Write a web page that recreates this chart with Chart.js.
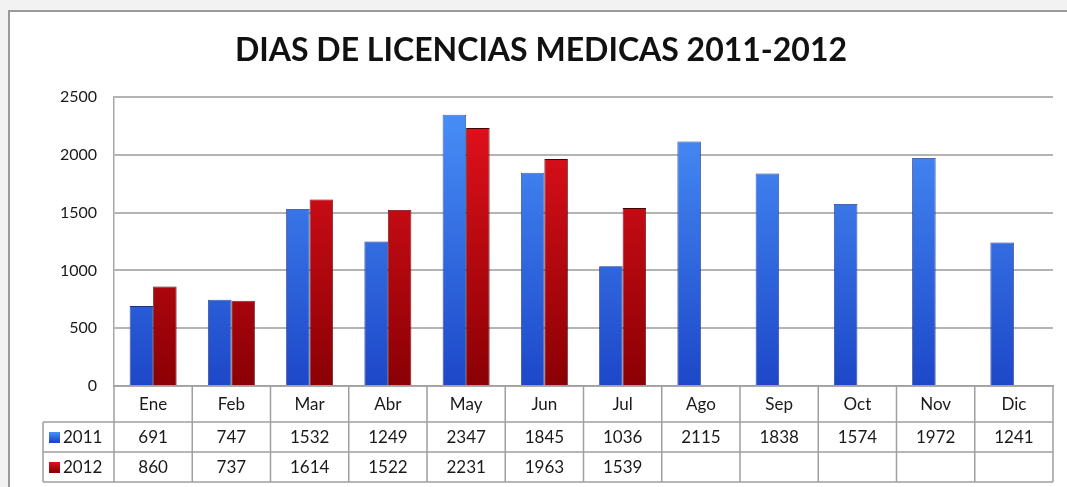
<!DOCTYPE html>
<html>
<head>
<meta charset="utf-8">
<script src="https://cdn.jsdelivr.net/npm/chart.js@4/dist/chart.umd.min.js"></script>
<style>
html,body{margin:0;padding:0;background:#fff;}
#wrap{position:relative;width:1067px;height:487px;}
</style>
</head>
<body>
<div id="wrap"><canvas id="c" width="1067" height="487"></canvas></div>
<script>
const titleText = 'DIAS DE LICENCIAS MEDICAS 2011-2012';
const months = ['Ene','Feb','Mar','Abr','May','Jun','Jul','Ago','Sep','Oct','Nov','Dic'];
const seriesNames = ['2011','2012'];
const values2011 = [691,747,1532,1249,2347,1845,1036,2115,1838,1574,1972,1241];
const values2012 = [860,737,1614,1522,2231,1963,1539,null,null,null,null,null];
const yTicks = [0,500,1000,1500,2000,2500];

const FONT = 'Lato, "Open Sans", sans-serif';

function vGrad(chart, top, bottom) {
  const area = chart.chartArea;
  if (!area) return top;
  const g = chart.ctx.createLinearGradient(0, area.top, 0, area.bottom);
  g.addColorStop(0, top);
  g.addColorStop(1, bottom);
  return g;
}

const framePlugin = {
  id: 'frame',
  beforeDraw(chart) {
    const ctx = chart.ctx;
    ctx.save();
    ctx.fillStyle = '#ffffff';
    ctx.fillRect(0, 0, chart.width, chart.height);
    ctx.fillStyle = '#f2f2f2';
    ctx.fillRect(0, 0, chart.width, 10);
    ctx.fillRect(0, 0, 8, chart.height);
    ctx.strokeStyle = '#9a9a9a';
    ctx.lineWidth = 2;
    ctx.beginPath();
    ctx.moveTo(9, chart.height);
    ctx.lineTo(9, 11);
    ctx.lineTo(chart.width, 11);
    ctx.stroke();
    // title
    ctx.font = 'bold 32px ' + FONT;
    ctx.fillStyle = '#111';
    ctx.textAlign = 'center';
    ctx.textBaseline = 'middle';
    ctx.fillText(titleText, 541, 51);
    ctx.restore();
  }
};

const tablePlugin = {
  id: 'dataTable',
  afterDraw(chart) {
    const ctx = chart.ctx;
    const area = chart.chartArea;
    const xs = chart.scales.x;
    const n = months.length;
    const w = (area.right - area.left) / n;
    const r0 = area.bottom, r1 = r0 + 36, r2 = r1 + 30, r3 = r2 + 30;
    const legLeft = 43;
    ctx.save();
    ctx.strokeStyle = '#a0a0a0';
    ctx.lineWidth = 1.5;
    ctx.beginPath();
    ctx.moveTo(legLeft, r1); ctx.lineTo(area.right, r1);
    ctx.moveTo(legLeft, r2); ctx.lineTo(area.right, r2);
    ctx.moveTo(legLeft, r3); ctx.lineTo(area.right, r3);
    ctx.moveTo(legLeft, r1); ctx.lineTo(legLeft, r3);
    for (let i = 0; i <= n; i++) {
      const x = area.left + i * w;
      ctx.moveTo(x, r0); ctx.lineTo(x, r3);
    }
    ctx.stroke();

    ctx.font = '17px ' + FONT;
    ctx.fillStyle = '#1a1a1a';
    ctx.textAlign = 'center';
    ctx.textBaseline = 'middle';
    const rows = [values2011, values2012];
    rows.forEach((vals, ri) => {
      const yc = ri === 0 ? (r1 + r2) / 2 : (r2 + r3) / 2;
      vals.forEach((v, i) => {
        if (v === null || v === undefined) return;
        ctx.fillText(String(v), xs.getPixelForValue(i), yc + 1);
      });
    });
    const keyCols = [['#4a90f8', '#1c46c8'], ['#e5101c', '#8a0004']];
    seriesNames.forEach((name, ri) => {
      const yc = ri === 0 ? (r1 + r2) / 2 : (r2 + r3) / 2;
      const g = ctx.createLinearGradient(0, yc - 5, 0, yc + 5);
      g.addColorStop(0, keyCols[ri][0]);
      g.addColorStop(1, keyCols[ri][1]);
      ctx.fillStyle = g;
      ctx.fillRect(49, yc - 5, 11, 11);
      ctx.fillStyle = '#1a1a1a';
      ctx.textAlign = 'left';
      ctx.fillText(name, 63, yc + 1);
    });
    ctx.restore();
  }
};

new Chart(document.getElementById('c'), {
  type: 'bar',
  data: {
    labels: months,
    datasets: [
      {
        label: seriesNames[0],
        data: values2011,
        backgroundColor: (c) => vGrad(c.chart, '#4a92fa', '#1d47c8'),
        borderColor: '#1a2f80',
        borderWidth: 0.8,
        categoryPercentage: 0.6,
        barPercentage: 1.0
      },
      {
        label: seriesNames[1],
        data: values2012,
        backgroundColor: (c) => vGrad(c.chart, '#e8121e', '#8a0004'),
        borderColor: '#4a0000',
        borderWidth: 0.8,
        categoryPercentage: 0.6,
        barPercentage: 1.0
      }
    ]
  },
  options: {
    responsive: false,
    animation: false,
    devicePixelRatio: 1,
    layout: { padding: { left: 0, right: 14, top: 97, bottom: 0 } },
    plugins: {
      legend: { display: false },
      tooltip: { enabled: false },
      title: { display: false }
    },
    scales: {
      x: {
        grid: { display: false, drawTicks: false },
        border: { display: true, color: '#a0a0a0', width: 1.5 },
        ticks: { color: '#1a1a1a', font: { family: FONT, size: 17 }, padding: 8, maxRotation: 0 },
        afterFit(s) { s.height = 101; }
      },
      y: {
        min: 0, max: 2500,
        afterBuildTicks(s) { s.ticks = yTicks.map(v => ({ value: v })); },
        grid: { color: '#b4b4b4', lineWidth: 2, drawTicks: false },
        border: { display: true, color: '#a8a8a8', width: 1.5 },
        ticks: { color: '#1a1a1a', font: { family: FONT, size: 16 }, padding: 17, callback: (v) => String(v) },
        afterFit(s) { s.width = 114; }
      }
    }
  },
  plugins: [framePlugin, tablePlugin]
});
</script>
</body>
</html>
